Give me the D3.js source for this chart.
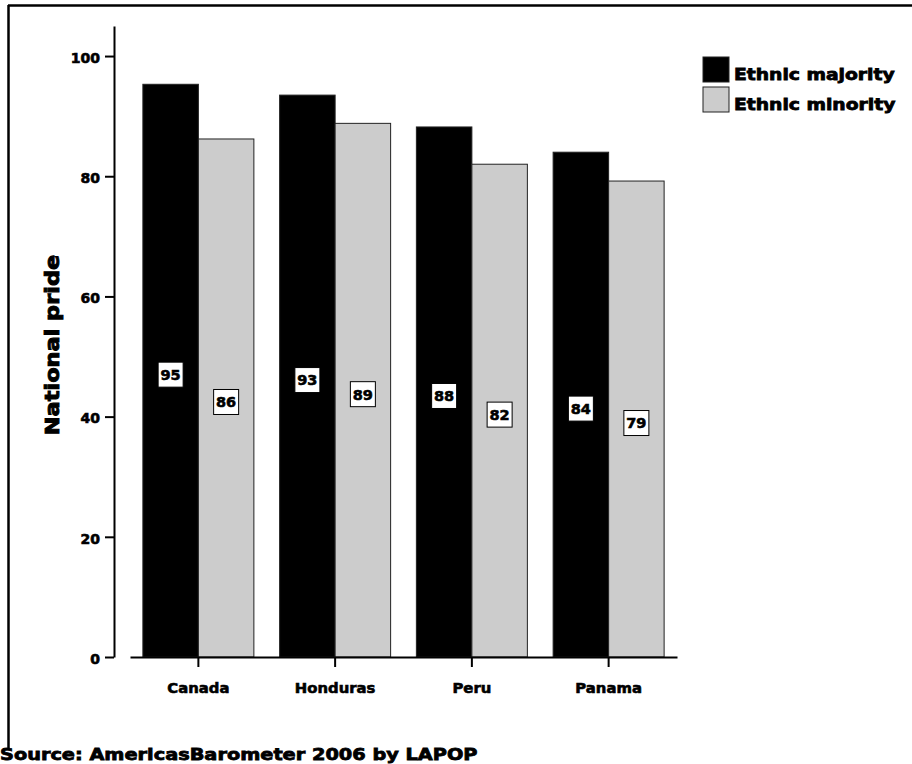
<!DOCTYPE html>
<html>
<head>
<meta charset="utf-8">
<script src="https://cdn.jsdelivr.net/npm/d3@7"></script>
<style>
  html, body { margin: 0; padding: 0; background: #fff; }
  svg { display: block; }
  text { font-family: "DejaVu Sans", "Liberation Sans", sans-serif; font-weight: bold; fill: #000; }
  .heavy { stroke: #000; stroke-width: 0.6px; paint-order: stroke; }
</style>
</head>
<body>
<svg id="chart" width="912" height="764"></svg>
<script>
const categories = ["Canada", "Honduras", "Peru", "Panama"];
const seriesNames = ["Ethnic majority", "Ethnic minority"];
const majority = [95.3, 93.5, 88.2, 84.0];
const minority = [86.2, 88.8, 82.0, 79.2];
const majorityLabels = ["95", "93", "88", "84"];
const minorityLabels = ["86", "89", "82", "79"];
const yTicks = [0, 20, 40, 60, 80, 100];
const yTitle = "National pride";
const sourceText = "Source: AmericasBarometer 2006 by LAPOP";

const colors = { "Ethnic majority": "#000000", "Ethnic minority": "#cccccc" };

const svg = d3.select("#chart");

function widen(sel, factor) {
  sel.each(function () {
    const w = this.getComputedTextLength();
    d3.select(this).attr("textLength", w * factor).attr("lengthAdjust", "spacingAndGlyphs");
  });
}

// frame (top and left)
svg.append("line").attr("x1", 8).attr("x2", 912).attr("y1", 5.5).attr("y2", 5.5)
  .attr("stroke", "#000").attr("stroke-width", 2.5);
svg.append("line").attr("x1", 8.5).attr("x2", 8.5).attr("y1", 5).attr("y2", 750)
  .attr("stroke", "#000").attr("stroke-width", 2.5);

const y = d3.scaleLinear().domain([0, 105]).range([657, 26]);
const x = d3.scaleBand().domain(categories).range([130, 677]).padding(0);
const x1 = d3.scaleBand().domain(seriesNames).range([0, x.bandwidth()]).paddingInner(0).paddingOuter(0.232);

const data = categories.map((c, i) => ({
  cat: c,
  vals: [
    { s: seriesNames[0], v: majority[i], lab: majorityLabels[i] },
    { s: seriesNames[1], v: minority[i], lab: minorityLabels[i] }
  ]
}));

// bars
const g = svg.append("g");
const groups = g.selectAll("g.grp").data(data).join("g")
  .attr("class", "grp")
  .attr("transform", d => `translate(${x(d.cat)},0)`);

groups.selectAll("rect.bar").data(d => d.vals).join("rect")
  .attr("class", "bar")
  .attr("x", d => x1(d.s))
  .attr("width", x1.bandwidth())
  .attr("y", d => y(d.v))
  .attr("height", d => y(0) - y(d.v))
  .attr("fill", d => colors[d.s])
  .attr("stroke", "#222")
  .attr("stroke-width", 1);

// value labels
const lab = groups.selectAll("g.lab").data(d => d.vals).join("g")
  .attr("class", "lab")
  .attr("transform", d => `translate(${x1(d.s) + x1.bandwidth() / 2},${y(d.v / 2) + 4})`);
lab.append("rect")
  .attr("x", -12.5).attr("y", -12.5).attr("width", 25).attr("height", 25)
  .attr("fill", "#fff").attr("stroke", "#000").attr("stroke-width", 1);
lab.append("text")
  .attr("class", "heavy")
  .attr("text-anchor", "middle").attr("dy", "0.37em")
  .style("font-size", "14.5px")
  .text(d => d.lab);

// y axis
const yAxis = d3.axisLeft(y).tickValues(yTicks).tickSize(9).tickSizeOuter(0).tickPadding(5);
const ya = svg.append("g").attr("transform", "translate(114,0)").call(yAxis);
ya.select(".domain").attr("stroke-width", 2);
ya.selectAll(".tick line").attr("stroke-width", 2);
ya.selectAll(".tick text").attr("class", "heavy").style("font-size", "14px").style("font-family", "DejaVu Sans").style("font-weight", "bold").attr("dy", "0.45em");

// x axis
const xAxis = d3.axisBottom(x).tickSize(10).tickSizeOuter(0).tickPadding(16);
const xa = svg.append("g").attr("transform", `translate(0,${y(0)})`).call(xAxis);
xa.select(".domain").attr("stroke-width", 2);
xa.selectAll(".tick line").attr("stroke-width", 2);
const xt = xa.selectAll(".tick text").attr("class", "heavy").style("font-size", "14px").style("font-family", "DejaVu Sans").style("font-weight", "bold");
widen(xt, 1.06);

// y title
const yt = svg.append("text")
  .attr("class", "heavy")
  .attr("transform", "translate(59,345) rotate(-90)")
  .attr("text-anchor", "middle")
  .style("font-size", "19px")
  .style("stroke-width", "0.9px")
  .text(yTitle);
widen(yt, 1.18);

// legend
const leg = svg.append("g").selectAll("g").data(seriesNames).join("g")
  .attr("transform", (d, i) => `translate(703,${57 + i * 30})`);
leg.append("rect").attr("width", 26).attr("height", 25)
  .attr("fill", d => colors[d]).attr("stroke", "#222").attr("stroke-width", 1);
const lt = leg.append("text").attr("class", "heavy").attr("x", 31).attr("y", 23)
  .style("font-size", "16px")
  .style("stroke-width", "0.8px")
  .text(d => d);
widen(lt, 1.17);

// source
const st = svg.append("text").attr("class", "heavy").attr("x", 0).attr("y", 760)
  .style("font-size", "16.5px")
  .style("stroke-width", "0.8px")
  .text(sourceText);
widen(st, 1.17);
</script>
</body>
</html>
